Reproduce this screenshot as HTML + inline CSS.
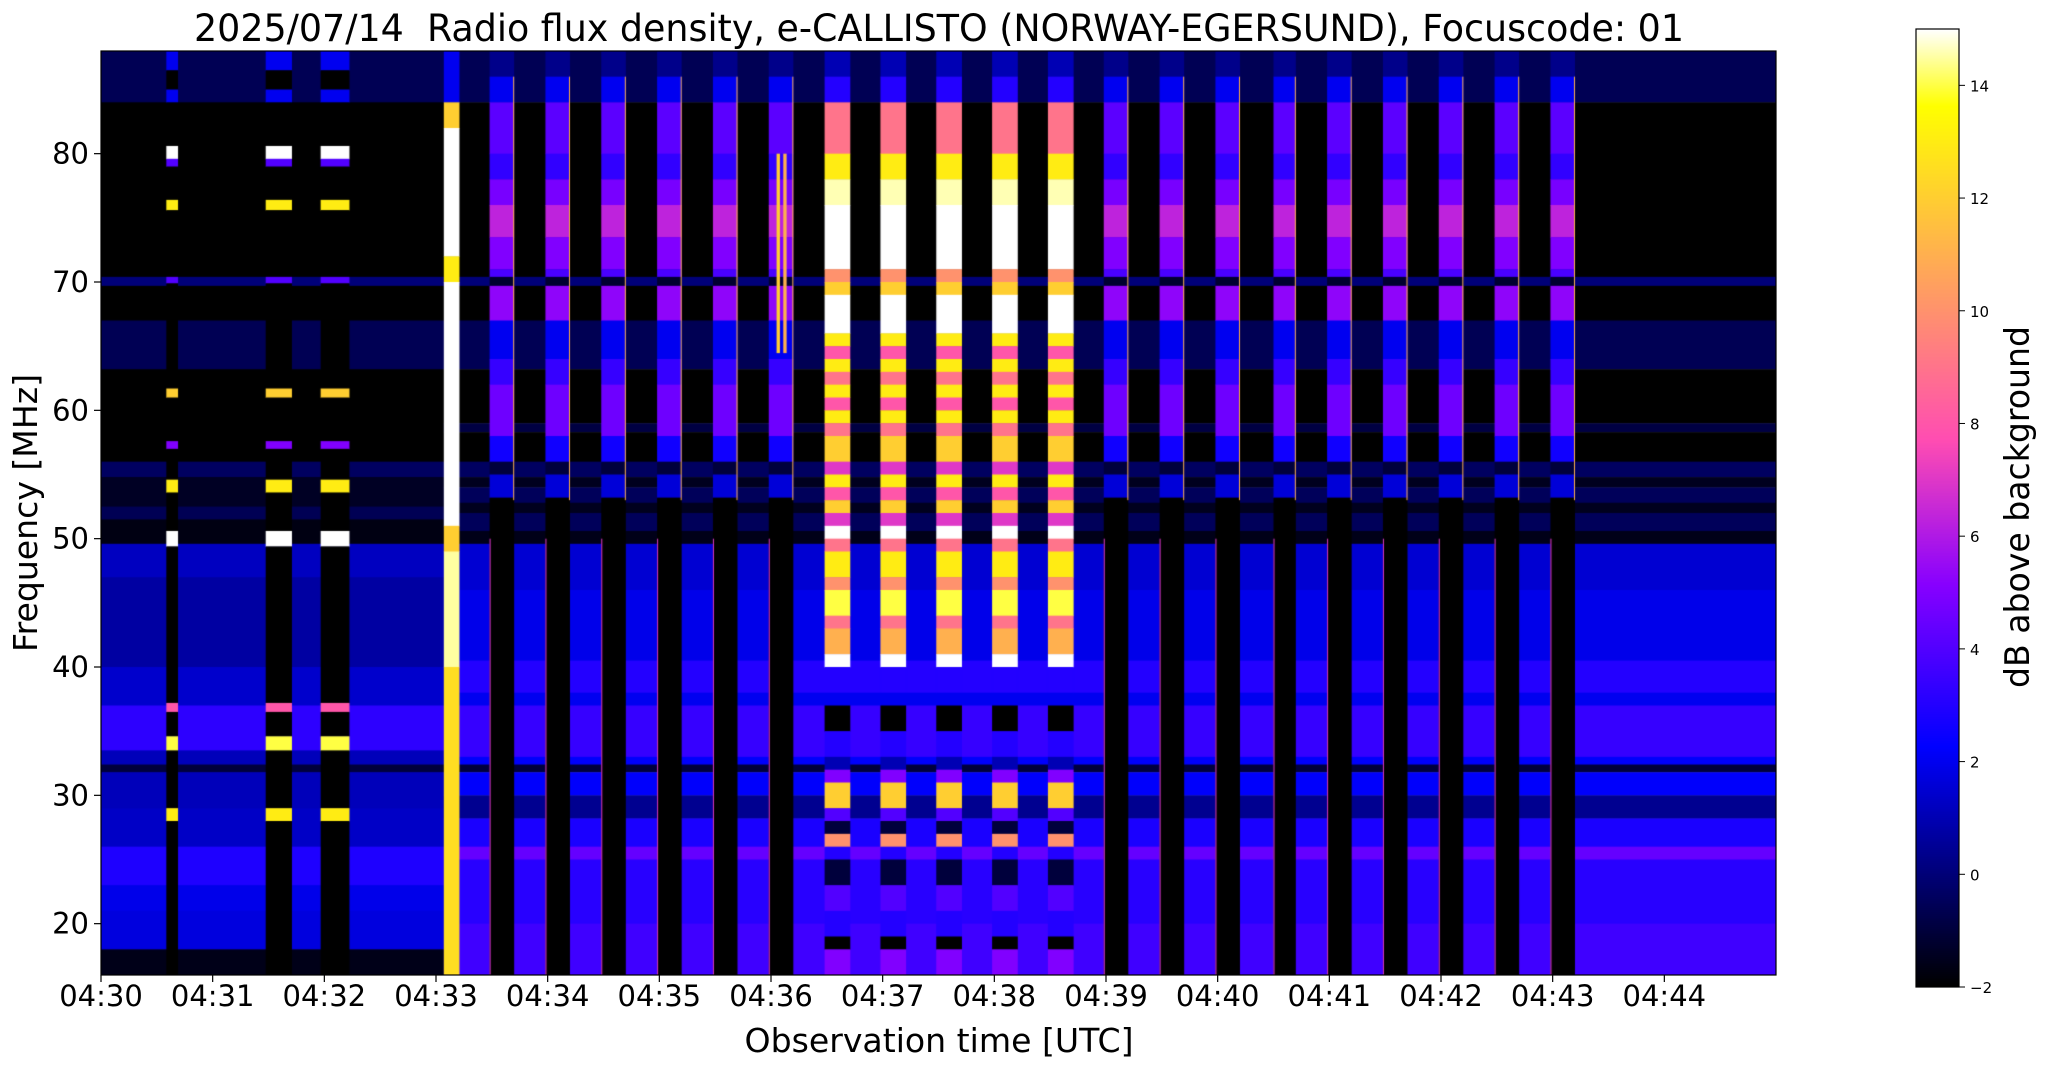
<!DOCTYPE html>
<html><head><meta charset="utf-8"><style>
html,body{margin:0;padding:0;background:#fff;}
#wrap{position:relative;width:2047px;height:1067px;overflow:hidden;font-family:"DejaVu Sans","Liberation Sans",sans-serif;}
canvas{position:absolute;}
svg{position:absolute;left:0;top:0;}
</style></head><body>
<div id="wrap">
<canvas id="spec" width="1675" height="924" style="left:101px;top:51px;width:1675px;height:924px"></canvas>
<canvas id="cbar" width="43" height="958" style="left:1916px;top:29px;width:43px;height:958px"></canvas>
<svg id="ax" width="2047" height="1067"></svg>
</div>
<script>
// ---- data ----
const timeTicks = [0,1,2,3,4,5,6,7,8,9,10,11,12,13,14];
const timeTickLabels = ["04:30","04:31","04:32","04:33","04:34","04:35","04:36","04:37","04:38","04:39","04:40","04:41","04:42","04:43","04:44"];
const freqTicks = [20,30,40,50,60,70,80];
const cbarTicks = [-2,0,2,4,6,8,10,12,14];
// band profiles: [fHigh, fLow, dB]
const bgBands = [[88,84,-0.6],[84,70.4,-2],[70.4,69.7,0],[69.7,67,-2],[67,63.2,-0.6],[63.2,59,-2],[59,58.3,-0.9],[58.3,56,-2],[56,54.8,-0.4],[54.8,54,-1.5],[54,52.8,-0.5],[52.8,52,-1.5],[52,50.6,-0.5],[50.6,49.6,-1.6],[49.6,46,1.5],[46,40.5,1.9],[40.5,38,3],[38,37,2],[37,33,3.4],[33,32.4,2.2],[32.4,31.8,-1],[31.8,30,2.2],[30,28.2,0.4],[28.2,26,2.8],[26,25,4.4],[25,20,3.1],[20,16,3.6]];
const earlyBands = [[88,84,-0.6],[84,70.4,-2],[70.4,69.7,0],[69.7,67,-2],[67,63.2,-0.6],[63.2,56,-2],[56,54.8,-0.4],[54.8,52.5,-1.4],[52.5,51.5,-0.6],[51.5,49.6,-1.7],[49.6,47,1.2],[47,40,0.7],[40,37,1.4],[37,33.5,3.2],[33.5,32.4,1.1],[32.4,31.8,-1],[31.8,29,1.1],[29,26,1.3],[26,23,2.9],[23,21,1.9],[21,18,1.7],[18,16,-1.6]];
const burstA = [[88,86,0.3],[86,84,2],[84,80,4.2],[80,78,3.3],[78,76,4.8],[76,73.5,6.3],[73.5,71,5],[71,70.4,3.8],[70.4,69.7,-1.2],[69.7,67,5.3],[67,64,2],[64,62,3.4],[62,58,4.6],[58,56,2.6],[56,55,-1],[55,53.2,1.6],[53.2,16,-2]];
const burstB = [[88,86,1],[86,84,3],[84,80,9],[80,78,13],[78,76,14.6],[76,71,16],[71,70,10],[70,69,12],[69,66,16],[66,65,13],[65,64,8],[64,63,13],[63,62,9],[62,61,13],[61,60,8],[60,59,13],[59,58,9],[58,56,12],[56,55,7],[55,54,13],[54,53,8],[53,52,12],[52,51,7],[51,50,16],[50,49,9],[49,47,13],[47,46,10],[46,44,14],[44,43,9],[43,41,11],[41,40,15],[40,38,3],[38,37,2],[37,35,-2],[35,33,3],[33,32,1],[32,31,5],[31,29,12],[29,28,4],[28,27,-1],[27,26,10],[26,25,3],[25,23,-1],[23,21,4],[21,19,3],[19,18,-2],[18,16,5]];
const burstC = [[88,86.5,2],[86.5,85,-2],[85,84,2],[84,80.6,-2],[80.6,79.6,15.5],[79.6,79,4],[79,76.4,-2],[76.4,75.6,13],[75.6,70.4,-2],[70.4,69.9,4],[69.9,61.7,-2],[61.7,61,12],[61,57.6,-2],[57.6,57,5],[57,54.6,-2],[54.6,53.6,13],[53.6,50.6,-2],[50.6,49.4,16],[49.4,37.2,-2],[37.2,36.5,8],[36.5,34.6,-2],[34.6,33.5,14],[33.5,29,-2],[29,28,13],[28,16,-2]];
const burstD = [[88,84,2],[84,82,12],[82,72,15.5],[72,70,13],[70,51,16],[51,49,12],[49,40,14.5],[40,16,12.5]];
// bursts: start / end in minutes after 04:30 and kind
const burstStart = [0.585,1.475,1.967,3.07,3.48,3.98,4.48,4.98,5.48,5.98,6.48,6.98,7.48,7.98,8.48,8.98,9.48,9.98,10.5,10.98,11.48,11.98,12.48,12.98];
const burstEnd   = [0.69,1.71,2.225,3.21,3.70,4.20,4.70,5.20,5.70,6.20,6.71,7.21,7.71,8.21,8.71,9.20,9.70,10.20,10.70,11.20,11.70,12.20,12.70,13.20];
const burstKind  = ["C","C","C","D","A","A","A","A","A","A","B","B","B","B","B","A","A","A","A","A","A","A","A","A"];
// isolated streak overlays: [tStart, tEnd, fHigh, fLow, dB]
const streaks = [[6.05,6.08,80,64.5,12],[6.11,6.14,80,64.5,11]];
const earlyEnd = 3.07;
// ---- scales ----
const PL=101, PT=51, PW=1675, PH=924, TMAX=15.0, FMIN=16, FMAX=88;
const xs = m => PL + m/TMAX*PW;
const ys = f => PT + (FMAX-f)/(FMAX-FMIN)*PH;
const CB_T=29, CB_B=987, VMIN=-2, VMAX=15;
const cy = v => CB_B - (v-VMIN)/(VMAX-VMIN)*(CB_B-CB_T);
function clip(v){return Math.max(0,Math.min(1,v));}
function cmap(v){
  const x = clip((v-VMIN)/(VMAX-VMIN));
  const r = clip(x/0.32-0.78125), g = clip(2*x-0.84);
  let b; if(x<0.25) b=4*x; else if(x<0.42) b=1; else if(x<0.92) b=-2*x+1.84; else b=x/0.08-11.5;
  b=clip(b);
  return `rgb(${Math.round(r*255)},${Math.round(g*255)},${Math.round(b*255)})`;
}
const sc = document.getElementById('spec').getContext('2d');
function drawBands(bands,t0,t1){
  const x0 = xs(t0)-PL, x1 = xs(t1)-PL;
  for(const [fh,fl,v] of bands){
    const y0 = ys(fh)-PT, y1 = ys(fl)-PT;
    sc.fillStyle = cmap(v);
    sc.fillRect(x0, y0, x1-x0, y1-y0+0.5);
  }
}
drawBands(bgBands,0,TMAX);
drawBands(earlyBands,0,earlyEnd);
const kinds = {A:burstA,B:burstB,C:burstC,D:burstD};
for(let i=0;i<burstStart.length;i++){
  drawBands(kinds[burstKind[i]],burstStart[i],burstEnd[i]);
  if(burstKind[i]==='A'){
    sc.fillStyle = cmap(11);
    sc.fillRect(xs(burstEnd[i])-PL-1, ys(86)-PT, 1, ys(53)-ys(86));
    sc.fillStyle = cmap(7);
    sc.fillRect(xs(burstStart[i])-PL, ys(50)-PT, 1, ys(16)-ys(50));
  }
}
for(const [t0,t1,fh,fl,v] of streaks){ drawBands([[fh,fl,v]],t0,t1); }
// colorbar
const cc = document.getElementById('cbar').getContext('2d');
for(let y=0;y<958;y++){ const v = VMAX - y/957*(VMAX-VMIN); cc.fillStyle=cmap(v); cc.fillRect(0,y,43,1); }
// ---- axes svg ----
const NS='http://www.w3.org/2000/svg', svg=document.getElementById('ax');
function el(tag,attrs,txt){const e=document.createElementNS(NS,tag);for(const k in attrs)e.setAttribute(k,attrs[k]);if(txt!==undefined)e.textContent=txt;svg.appendChild(e);return e;}
let e;
e=el('rect',{x:PL,y:PT,width:PW,height:PH,fill:'none',stroke:'#000','stroke-width':1.2});


e=el('rect',{x:1916,y:CB_T,width:43,height:CB_B-CB_T,fill:'none',stroke:'#000','stroke-width':1.2});


timeTicks.forEach((t,i)=>{
  const x=xs(t);
  e=el('line',{x1:x,x2:x,y1:PT+PH,y2:PT+PH+7,stroke:'#000','stroke-width':1.2});
  
  
  e=el('text',{x:x,y:1006,'font-size':29,'text-anchor':'middle',fill:'#000'},timeTickLabels[i]);
  
  
});
freqTicks.forEach(f=>{
  const y=ys(f);
  e=el('line',{x1:PL-7,x2:PL,y1:y,y2:y,stroke:'#000','stroke-width':1.2});
  
  
  e=el('text',{x:89,y:y+10,'font-size':29,'text-anchor':'end',fill:'#000'},String(f));
  
  
});
cbarTicks.forEach(v=>{
  const y=cy(v);
  e=el('line',{x1:1959,x2:1965,y1:y,y2:y,stroke:'#000','stroke-width':1});
  
  
  e=el('text',{x:1970,y:y+6,'font-size':15,fill:'#000'},v<0?'\u2212'+Math.abs(v):String(v));
  
  
});
e=el('text',{x:939,y:41,'font-size':37,'text-anchor':'middle',fill:'#000',textLength:1490,lengthAdjust:'spacingAndGlyphs'},'2025/07/14\u00a0\u00a0Radio flux density, e-CALLISTO (NORWAY-EGERSUND), Focuscode: 01');


e=el('text',{x:939,y:1052,'font-size':33,'text-anchor':'middle',fill:'#000',textLength:389,lengthAdjust:'spacingAndGlyphs'},'Observation time [UTC]');


e=el('text',{x:0,y:0,'font-size':33,'text-anchor':'middle',fill:'#000',transform:'translate(37,513) rotate(-90)',textLength:278,lengthAdjust:'spacingAndGlyphs'},'Frequency [MHz]');


e=el('text',{x:0,y:0,'font-size':34,'text-anchor':'middle',fill:'#000',transform:'translate(2029,507) rotate(-90)',textLength:362,lengthAdjust:'spacingAndGlyphs'},'dB above background');


</script>
</body></html>
